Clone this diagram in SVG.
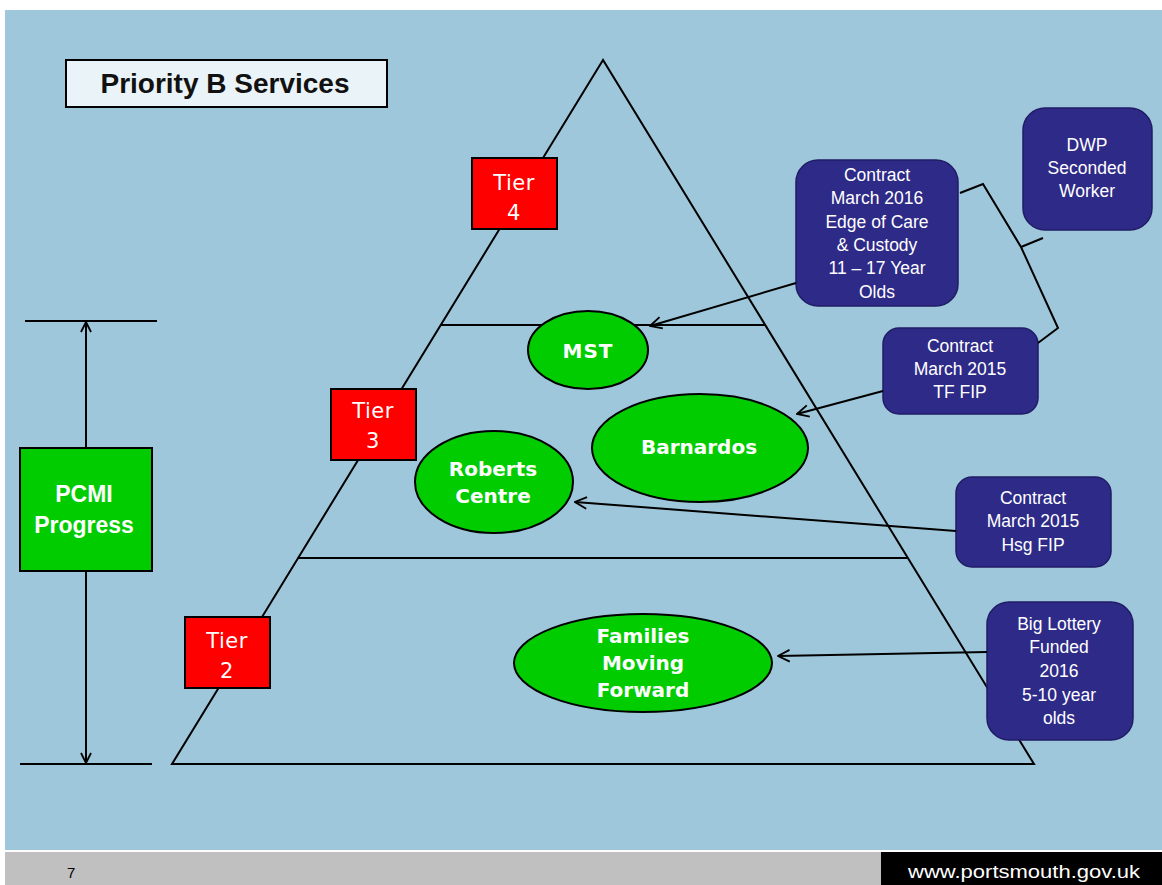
<svg xmlns="http://www.w3.org/2000/svg" width="1162" height="885" viewBox="0 0 1162 885">
<defs>
<marker id="arr" viewBox="0 0 12 12" refX="11" refY="6" markerWidth="12" markerHeight="12" markerUnits="userSpaceOnUse" orient="auto">
<path d="M1,1 L11,6 L1,11" fill="none" stroke="#000" stroke-width="1.8"/>
</marker>
<marker id="arr2" viewBox="0 0 12 12" refX="11" refY="6" markerWidth="14" markerHeight="14" markerUnits="userSpaceOnUse" orient="auto">
<path d="M1,1 L11,6 L1,11" fill="none" stroke="#000" stroke-width="1.6"/>
</marker>
</defs>
<style>
.ln{stroke:#000;stroke-width:2;fill:none}
.tier rect{fill:#FF0000;stroke:#000;stroke-width:2}
.tier text{font-family:"DejaVu Sans",Verdana,sans-serif;font-size:21px;fill:#fff;text-anchor:middle;letter-spacing:0.5px}
.ell ellipse{fill:#00CC00;stroke:#000;stroke-width:2}
.ell text{font-family:"DejaVu Sans",Tahoma,sans-serif;font-weight:bold;font-size:20px;fill:#fff;text-anchor:middle}
.bx rect{fill:#2E2A88;stroke:#201D66;stroke-width:1.5}
.bx text{font-family:"Liberation Sans",Arial,sans-serif;font-size:17.5px;fill:#fff;text-anchor:middle}
.con{stroke:#000;stroke-width:2;fill:none}
</style>
<rect x="0" y="0" width="1162" height="885" fill="#fff"/>
<rect x="5" y="10" width="1157" height="840" fill="#9FC7DB"/>
<rect x="5" y="852" width="876" height="33" fill="#C0C0C0"/>
<rect x="881" y="852" width="281" height="33" fill="#000"/>
<text x="67" y="878" font-family="Liberation Sans,Arial,sans-serif" font-size="15" fill="#000">7</text>
<text x="908" y="878" font-family="Liberation Sans,Arial,sans-serif" font-size="19" fill="#fff" textLength="232" lengthAdjust="spacingAndGlyphs">www.portsmouth.gov.uk</text>

<g id="title">
<rect x="66" y="60" width="321" height="47" fill="#EAF3F8" stroke="#000" stroke-width="2"/>
<text x="225" y="93" font-family="Liberation Sans,Arial,sans-serif" font-size="28" font-weight="bold" fill="#111" text-anchor="middle">Priority B Services</text>
</g>

<g id="pyramid">
<path class="ln" d="M603,60 L172,764 L1034,764 Z"/>
<line class="ln" x1="441" y1="325" x2="765" y2="325"/>
<line class="ln" x1="298" y1="558" x2="908" y2="558"/>
</g>

<g id="bracket">
<line class="ln" x1="25" y1="321" x2="157" y2="321"/>
<line class="ln" x1="20" y1="764" x2="152" y2="764"/>
<line class="ln" x1="86" y1="448" x2="86" y2="322" marker-end="url(#arr)"/>
<line class="ln" x1="86" y1="571" x2="86" y2="763" marker-end="url(#arr)"/>
</g>

<g id="pcmi">
<rect x="20" y="448" width="132" height="123" fill="#00CC00" stroke="#000" stroke-width="2"/>
<text x="84" y="502" font-family="Liberation Sans,Arial,sans-serif" font-size="23" font-weight="bold" fill="#fff" text-anchor="middle">PCMI</text>
<text x="84" y="533" font-family="Liberation Sans,Arial,sans-serif" font-size="23" font-weight="bold" fill="#fff" text-anchor="middle">Progress</text>
</g>

<g id="tier4" class="tier"><rect x="472" y="158" width="85" height="71"/><text x="514" y="190">Tier</text><text x="514" y="220">4</text></g>
<g id="tier3" class="tier"><rect x="331" y="389" width="85" height="71"/><text x="373" y="418">Tier</text><text x="373" y="448">3</text></g>
<g id="tier2" class="tier"><rect x="185" y="617" width="85" height="71"/><text x="227" y="648">Tier</text><text x="227" y="678">2</text></g>

<g id="mst" class="ell"><ellipse cx="588" cy="350" rx="60" ry="39"/><text x="588" y="358" letter-spacing="1">MST</text></g>
<g id="barnardos" class="ell"><ellipse cx="700" cy="448" rx="108" ry="54"/><text x="699" y="454">Barnardos</text></g>
<g id="roberts" class="ell"><ellipse cx="494" cy="482" rx="79" ry="51"/><text x="493" y="476">Roberts</text><text x="493" y="503">Centre</text></g>
<g id="families" class="ell"><ellipse cx="643" cy="663" rx="129" ry="49"/><text x="643" y="643">Families</text><text x="643" y="670">Moving</text><text x="643" y="697">Forward</text></g>

<g id="contract2016" class="bx"><rect x="796" y="160" width="162" height="146" rx="22"/>
<text x="877" y="181">Contract</text><text x="877" y="204">March 2016</text><text x="877" y="228">Edge of Care</text><text x="877" y="251">&amp; Custody</text><text x="877" y="274">11 – 17 Year</text><text x="877" y="298">Olds</text></g>
<g id="dwp" class="bx"><rect x="1023" y="108" width="129" height="122" rx="22"/>
<text x="1087" y="151">DWP</text><text x="1087" y="174">Seconded</text><text x="1087" y="197">Worker</text></g>
<g id="tffip" class="bx"><rect x="883" y="328" width="155" height="86" rx="16"/>
<text x="960" y="352">Contract</text><text x="960" y="375">March 2015</text><text x="960" y="398">TF FIP</text></g>
<g id="hsgfip" class="bx"><rect x="956" y="477" width="155" height="90" rx="16"/>
<text x="1033" y="504">Contract</text><text x="1033" y="527">March 2015</text><text x="1033" y="551">Hsg FIP</text></g>
<g id="lottery" class="bx"><rect x="987" y="602" width="146" height="138" rx="22"/>
<text x="1059" y="630">Big Lottery</text><text x="1059" y="653">Funded</text><text x="1059" y="677">2016</text><text x="1059" y="701">5-10 year</text><text x="1059" y="724">olds</text></g>

<g id="connectors">
<line class="con" x1="796" y1="283" x2="650" y2="326" marker-end="url(#arr2)"/>
<line class="con" x1="883" y1="391" x2="797" y2="414" marker-end="url(#arr2)"/>
<line class="con" x1="956" y1="531" x2="575" y2="502" marker-end="url(#arr2)"/>
<line class="con" x1="987" y1="652" x2="778" y2="656" marker-end="url(#arr2)"/>
<path class="con" d="M960,193 L983,184 L1021,247 L1058,328 L1038,343 M1021,247 L1043,238"/>
</g>
</svg>
